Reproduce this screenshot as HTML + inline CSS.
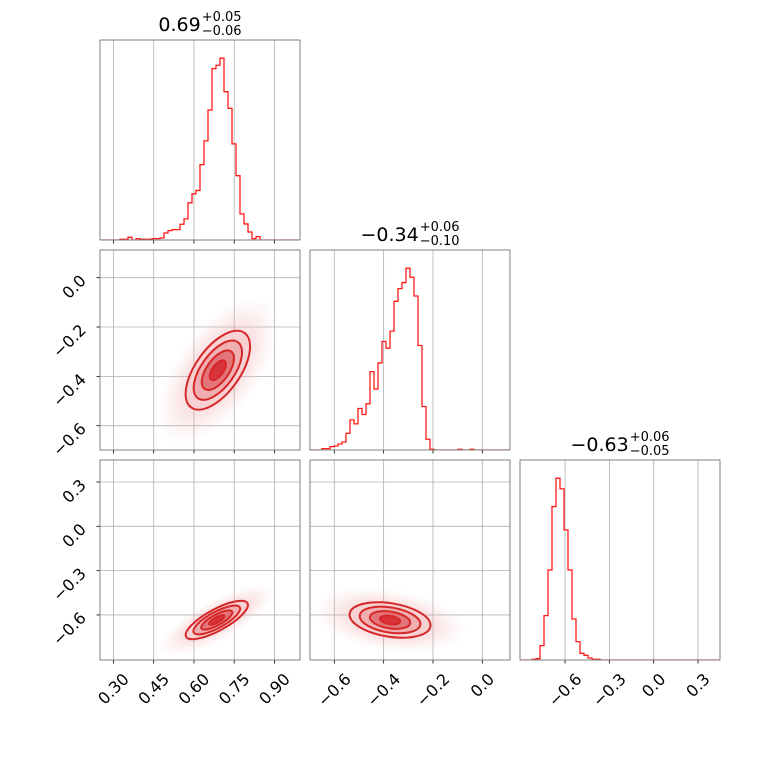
<!DOCTYPE html>
<html><head><meta charset="utf-8"><style>
html,body{margin:0;padding:0;background:#fff;}
svg{display:block;font-family:"DejaVu Sans","Liberation Sans",sans-serif;}
</style></head><body>
<svg id="fig" width="760" height="760" viewBox="0 0 760 760" xmlns="http://www.w3.org/2000/svg">
<defs>
<radialGradient id="cloud"><stop offset="0" stop-color="#e8868b" stop-opacity="0.55"/><stop offset="0.6" stop-color="#f0a8ab" stop-opacity="0.3"/><stop offset="1" stop-color="#f6c8ca" stop-opacity="0"/></radialGradient>
</defs>
</svg>
<script>
// ---- data ----
const paramNames = ["p1","p2","p3"];
const paramRanges = [[0.25,0.995],[-0.6985,0.1122],[-0.905,0.449]];
const tickValues1 = [0.30,0.45,0.60,0.75,0.90];
const tickLabels1 = ["0.30","0.45","0.60","0.75","0.90"];
const tickValues2 = [-0.6,-0.4,-0.2,0.0];
const tickLabels2 = ["\u22120.6","\u22120.4","\u22120.2","0.0"];
const tickValues3 = [-0.6,-0.3,0.0,0.3];
const tickLabels3 = ["\u22120.6","\u22120.3","0.0","0.3"];
const hist1 = [0,0,0,0,0,2,2,8,0,4,2,2,2,4,4,6,21,28,31,31,47,63,111,138,148,225,296,388,512,522,543,443,393,287,192,78,48,24,4,10,0,0,0,0,0,0,0,0,0,0];
const hist2 = [0,0,0,4,4,10,12,18,24,50,90,78,124,106,138,234,182,260,324,304,355,444,482,500,543,516,460,312,130,32,2,0,0,0,0,0,0,2,0,0,2,0,0,0,0,0,0,0,0,0];
const hist3 = [0,0,0,2,4,43,133,270,460,545,513,390,270,123,55,20,14,6,2,2,0,0,0,0,0,0,0,0,0,0,0,0,0,0,0,0,0,0,0,0,0,0,0,0,0,0,0,0,0,0];
const titleMain = ["0.69","\u22120.34","\u22120.63"];
const titleUp = ["+0.05","+0.06","+0.06"];
const titleDown = ["\u22120.06","\u22120.10","\u22120.05"];
// 2D gaussian summaries: [xParam, yParam]
const pairs = [[0,1],[0,2],[1,2]];
const pairMeanX = [0.689,0.685,-0.374];
const pairMeanY = [-0.375,-0.634,-0.634];
const pairSdX = [0.06,0.058,0.082];
const pairSdY = [0.08,0.065,0.06];
const pairRho = [0.6,0.78,-0.3];
const sigmaLevels = [2.0,1.5,1.0,0.5];

// ---- layout ----
const NS="http://www.w3.org/2000/svg";
const svg=document.getElementById('fig');
const S=200, G=210, X0=100, Y0=40;
const ticksV=[tickValues1,tickValues2,tickValues3], ticksL=[tickLabels1,tickLabels2,tickLabels3];
const hists=[hist1,hist2,hist3];
function el(tag,attrs,parent){const e=document.createElementNS(NS,tag);for(const k in attrs)e.setAttribute(k,attrs[k]);(parent||svg).appendChild(e);return e;}
function xScale(p,c){const r=paramRanges[p];const x0=X0+G*c;return v=>x0+(v-r[0])/(r[1]-r[0])*S;}
function yScale(p,row){const r=paramRanges[p];const y0=Y0+G*row;return v=>y0+S-(v-r[0])/(r[1]-r[0])*S;}

for(let row=0;row<3;row++){for(let col=0;col<=row;col++){
  const px=X0+G*col, py=Y0+G*row;
  const g=el('g',{});
  
  
  const cid='clip'+row+col;
  const cp=el('clipPath',{id:cid},g);el('rect',{x:px,y:py,width:S,height:S},cp);
  const xs=xScale(col,col);
  ticksV[col].forEach(v=>{const x=xs(v);const l=el('line',{x1:x,x2:x,y1:py,y2:py+S,stroke:'#b0b0b0','stroke-width':0.8},g);
    
    
    const t=el('line',{x1:x,x2:x,y1:py+S,y2:py+S+3.5,stroke:'#000','stroke-width':0.8},g);
    
    });
  if(row===col){
    const h=hists[col]; const mx=Math.max(...h)*1.1; const n=h.length; const r=paramRanges[col];
    const w=(r[1]-r[0])/n; const base=py+S;
    let d='M'+xs(r[0])+','+base;
    for(let i=0;i<n;i++){const y=base-h[i]/mx*S;d+=' L'+xs(r[0]+i*w)+','+y+' L'+xs(r[0]+(i+1)*w)+','+y;}
    d+=' L'+xs(r[1])+','+base;
    const p=el('path',{d:d,fill:'none',stroke:'#ff1a1a','stroke-width':1.3,'clip-path':'url(#'+cid+')'},g);
    
    
  } else {
    const ys=yScale(row,row);
    ticksV[row].forEach(v=>{const y=ys(v);const l=el('line',{x1:px,x2:px+S,y1:y,y2:y,stroke:'#b0b0b0','stroke-width':0.8},g);
      
      
      if(col===0){const t=el('line',{x1:px-3.5,x2:px,y1:y,y2:y,stroke:'#000','stroke-width':0.8},g);
      
      }});
    const k=pairs.findIndex(q=>q[0]===col&&q[1]===row);
    const cx=xs(pairMeanX[k]), cy=ys(pairMeanY[k]);
    const kx=S/(paramRanges[col][1]-paramRanges[col][0]), ky=-S/(paramRanges[row][1]-paramRanges[row][0]);
    const a=pairSdX[k]*kx, b=pairSdY[k]*ky;
    const cxx=a*a, cyy=b*b, cxy=pairRho[k]*a*b;
    const tr=(cxx+cyy)/2, df=Math.sqrt(((cxx-cyy)/2)**2+cxy*cxy);
    const l1=tr+df, l2=Math.max(tr-df,1e-6);
    const ang=Math.atan2(l1-cxx,cxy)*180/Math.PI;
    const cg=el('g',{'clip-path':'url(#'+cid+')'},g);
    const cl=el('ellipse',{cx:cx,cy:cy,rx:3.8*Math.sqrt(l1),ry:3.8*Math.sqrt(l2),fill:'url(#cloud)',transform:'rotate('+ang+' '+cx+' '+cy+')'},cg);
    
    
    const fills=['#f8d2d3','#f0aeb1','#e3747a','#d8333a'];
    sigmaLevels.forEach((s,i)=>{const e=el('ellipse',{cx:cx,cy:cy,rx:s*Math.sqrt(l1),ry:s*Math.sqrt(l2),fill:fills[i],stroke:'#d62728','stroke-width':2,transform:'rotate('+ang+' '+cx+' '+cy+')'},cg);
      
      });
  }
  const fr=el('rect',{x:px,y:py,width:S,height:S,fill:'none',stroke:'#808080','stroke-width':1},g);
  
  
}}

// x tick labels (bottom row)
for(let col=0;col<3;col++){const xs=xScale(col,col);
  ticksV[col].forEach((v,i)=>{const t=el('text',{'font-size':16,'text-anchor':'middle','dominant-baseline':'central',fill:'#000'});
    
    
    t.textContent=ticksL[col][i];
    const L=t.getComputedTextLength?t.getComputedTextLength():33;
    const cy=672+0.707*(L+12)/2;
    t.setAttribute('transform','translate('+xs(v)+','+cy+') rotate(-45)');});}
// y tick labels (left column, rows 1-2)
for(let row=1;row<3;row++){const ys=yScale(row,row);
  ticksV[row].forEach((v,i)=>{const y=ys(v);const t=el('text',{'font-size':16,'text-anchor':'end',fill:'#000',transform:'translate(87,'+(y+4)+') rotate(-45)'});
    
    
    t.textContent=ticksL[row][i];});}
// titles
for(let c=0;c<3;c++){const cx=X0+G*c+S/2, by=Y0+G*c-9;
  const g=el('g',{});
  
  
  const m=el('text',{'font-size':19,fill:'#000',y:by},g);m.textContent=titleMain[c];
  const u=el('text',{'font-size':13,fill:'#000',y:by-10},g);u.textContent=titleUp[c];
  const d=el('text',{'font-size':13,fill:'#000',y:by+4},g);d.textContent=titleDown[c];
  const mw=m.getComputedTextLength(), uw=Math.max(u.getComputedTextLength(),d.getComputedTextLength());
  const x0=cx-(mw+1+uw)/2;
  m.setAttribute('x',x0);u.setAttribute('x',x0+mw+1);d.setAttribute('x',x0+mw+1);}
</script>
</body></html>
